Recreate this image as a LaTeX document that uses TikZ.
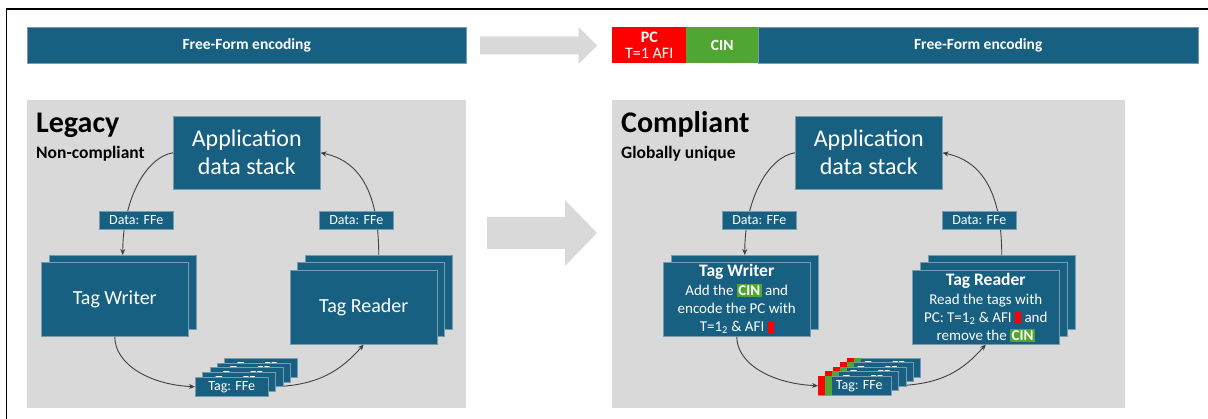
\documentclass[tikz,border=0pt]{standalone}
\usepackage{fontspec}
\setmainfont{Carlito}
\usetikzlibrary{arrows.meta}
\definecolor{deepblue}{RGB}{24,96,130}
\definecolor{edgeblue}{RGB}{120,155,175}
\definecolor{panelgray}{RGB}{217,217,217}
\definecolor{pcred}{RGB}{255,0,0}
\definecolor{cingreen}{RGB}{80,166,50}
\definecolor{wiregray}{RGB}{64,64,64}
\pgfdeclarelayer{panel}
\pgfdeclarelayer{wire}
\pgfsetlayers{panel,wire,main}
\newcommand\fsize[2]{\fontsize{#1}{#2}\selectfont}
\newcommand\cinmark{{\setlength{\fboxsep}{1.5pt}\colorbox{cingreen}{\bfseries CIN}}}
\newcommand\afimark{\textcolor{pcred}{\rule[-1.5pt]{6pt}{11.5pt}}}
\tikzset{
  bluebox/.style={draw=edgeblue, line width=0.5pt, fill=deepblue, text=white,
    inner sep=0pt, anchor=north west, align=center},
  appbox/.style={bluebox, minimum width=147pt, minimum height=73pt, font=\fsize{24}{28}},
  unitbox/.style={bluebox, minimum width=147pt, minimum height=74pt},
  datalabel/.style={bluebox, minimum width=74pt, minimum height=18pt, font=\fsize{14}{16}},
  tagbox/.style={bluebox, minimum width=73pt, minimum height=19pt, font=\fsize{14}{16}},
  barbox/.style={bluebox, minimum height=36pt, font=\bfseries\fsize{15.5}{18}},
  wire/.style={draw=wiregray, line width=0.9pt, -{Stealth[length=6pt,width=5pt]}},
  heading/.style={anchor=base west, inner sep=0pt, font=\bfseries\fsize{30}{32}},
  subheading/.style={anchor=base west, inner sep=0pt, font=\bfseries\fsize{17.5}{20}},
  detailtext/.style={font=\fsize{15}{18}},
}
\begin{document}
\begin{tikzpicture}[x=1pt,y=-1pt]
\useasboundingbox (0,0) rectangle (1208,419);
\clip (0,0) rectangle (1208,419);

% page, panels and transition arrows
\begin{pgfonlayer}{panel}
  \fill[white] (0,0) rectangle (1208,419);
  \draw[line width=1.6pt] (6.5,440) -- (6.5,9) -- (1230,9);
  \fill[panelgray] (27,100) rectangle (466,408);
  \fill[panelgray] (612,100) rectangle (1125,408);
  \fill[panelgray] (480,36.5) -- (578.5,36.5) -- (578.5,27) -- (597,45.5)
     -- (578.5,64) -- (578.5,54.5) -- (480,54.5) -- cycle;
  \fill[panelgray] (487,217) -- (565,217) -- (565,200) -- (597,233)
     -- (565,266) -- (565,249) -- (487,249) -- cycle;
\end{pgfonlayer}

% encoding bars
\node[barbox, minimum width=439pt] (ffL) at (27,27) {Free-Form encoding};
\node[bluebox, fill=pcred, draw=none, minimum width=74pt, minimum height=36pt,
      font=\fsize{16}{16}] (pc) at (612,27) {\textbf{PC}\\T=1 AFI};
\node[bluebox, fill=cingreen, draw=none, minimum width=72pt, minimum height=36pt,
      font=\bfseries\fsize{15.5}{18}] (cin) at (686,27) {CIN};
\node[barbox, minimum width=440pt] (ffR) at (758,27) {Free-Form encoding};

% ---------- legacy side ----------
\node[heading] (legacy) at (36,133) {Legacy};
\node[subheading] (noncomp) at (36,159) {Non-compliant};
\node[appbox] (appL) at (173,116) {Application\\data stack};
\node[unitbox] (twLb) at (49,255) {};
\node[unitbox, font=\fsize{20}{24}] (twL) at (41,262) {Tag Writer};
\node[unitbox] (trLb) at (305,255) {};
\node[unitbox] (trLm) at (297,262) {};
\node[unitbox, font=\fsize{20}{24}] (trL) at (290,270) {Tag Reader};
\foreach \i in {4,...,0}
  \node[tagbox] (tagL\i) at (195+7.25*\i, 377-4.75*\i) {Tag: FFe};

% ---------- compliant side ----------
\node[heading] (compliant) at (621,133) {Compliant};
\node[subheading] (unique) at (621,159) {Globally unique};
\node[appbox] (appR) at (795,116) {Application\\data stack};
\node[unitbox] (twRb) at (671,255) {};
\node[unitbox, detailtext] (twR) at (663,262)
  {{\bfseries\fsize{17.5}{21}Tag Writer}\\[1pt]
   Add the \cinmark{} and\\ encode the PC with\\ T=1\textsubscript{2} \& AFI \afimark};
\node[unitbox] (trRb) at (928,255) {};
\node[unitbox] (trRm) at (920,262) {};
\node[unitbox, detailtext] (trR) at (912,270)
  {{\bfseries\fsize{17.5}{21}Tag Reader}\\[1pt]
   Read the tags with\\ PC: T=1\textsubscript{2} \& AFI \afimark{} and\\ remove the \cinmark};
\foreach \i in {4,...,0} {
  \node[tagbox] (tagR\i) at (818+7.25*\i, 376-4.6*\i) {\hspace*{9pt}Tag: FFe};
  \fill[pcred] (tagR\i.north west) rectangle ++(7,19);
  \fill[cingreen] ([xshift=7pt]tagR\i.north west) rectangle ++(7,19);
}

% connectors
\begin{pgfonlayer}{wire}
  \draw[wire] (appL.west) .. controls +(-26,4) and +(0,-57) .. (twLb.north);
  \draw[wire] (trLb.north) .. controls +(0,-65) and +(38,8) .. (appL.east);
  \draw[wire] (twL.south) .. controls +(0,28) and +(-45,-2) .. (tagL0.west);
  \draw[wire] (tagL0.east) .. controls +(50,0) and +(-22,25) .. (trL.south);
  \draw[wire] (appR.west) .. controls +(-26,4) and +(0,-57) .. (twRb.north);
  \draw[wire] (trRb.north) .. controls +(0,-65) and +(38,8) .. (appR.east);
  \draw[wire] (twR.south) .. controls +(0,28) and +(-45,-2) .. (tagR0.west);
  \draw[wire] (tagR0.east) .. controls +(50,0) and +(-22,25) .. (trR.south);
\end{pgfonlayer}

% data labels sitting on the connectors
\node[datalabel] (dwL) at (99,211) {Data: FFe};
\node[datalabel] (drL) at (319,211) {Data: FFe};
\node[datalabel] (dwR) at (722,211) {Data: FFe};
\node[datalabel] (drR) at (942,211) {Data: FFe};
\end{tikzpicture}
\end{document}
